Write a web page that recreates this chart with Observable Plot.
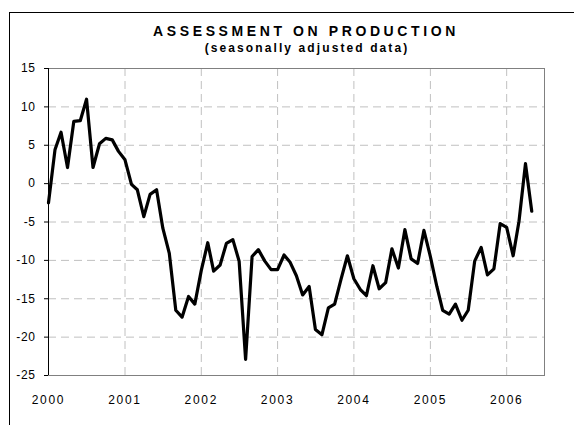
<!DOCTYPE html>
<html>
<head>
<meta charset="utf-8">
<script src="https://cdn.jsdelivr.net/npm/d3@7"></script>
<script src="https://cdn.jsdelivr.net/npm/@observablehq/plot@0.6"></script>
<style>
  html, body { margin: 0; padding: 0; background: #fff; width: 574px; height: 425px; overflow: hidden; position: relative; }
  #frame { position: absolute; left: 9px; top: 12px; width: 620px; height: 520px; border: 1px solid #000; box-sizing: border-box; }
  #title { position: absolute; left: 0; width: 608px; top: 24px; text-align: center; font: bold 14px "Liberation Sans", Arial, sans-serif; line-height: 14px; letter-spacing: 3.6px; padding-left: 4px; box-sizing: border-box; color: #000; }
  #subtitle { position: absolute; left: 0; width: 612px; top: 42px; text-align: center; font: bold 12px "Liberation Sans", Arial, sans-serif; line-height: 12px; letter-spacing: 2.1px; padding-left: 2px; box-sizing: border-box; color: #000; }
  #chart { position: absolute; left: 0; top: 58px; }
  #chart svg g[aria-label="x-axis tick label"] text { letter-spacing: 1.7px; }
  #chart svg g[aria-label="y-axis tick label"] text { letter-spacing: 0.6px; }
</style>
</head>
<body>
<div id="frame"></div>
<div id="title">ASSESSMENT ON PRODUCTION</div>
<div id="subtitle">(seasonally adjusted data)</div>
<div id="chart"></div>
<script>
// Monthly values, January 2000 – May 2006
const values2000 = [-2.5, 4.4, 6.7, 2.1, 8.1, 8.2, 11.0, 2.1, 5.2, 5.9, 5.7, 4.2];
const values2001 = [3.1, -0.1, -0.8, -4.3, -1.4, -0.8, -5.8, -9.1, -16.5, -17.4, -14.7, -15.7];
const values2002 = [-11.3, -7.7, -11.4, -10.6, -7.8, -7.3, -10.1, -22.9, -9.5, -8.6, -10.1, -11.2];
const values2003 = [-11.2, -9.3, -10.2, -12.0, -14.5, -13.4, -19.0, -19.7, -16.2, -15.7, -12.4, -9.4];
const values2004 = [-12.4, -13.8, -14.6, -10.7, -13.7, -12.9, -8.5, -11.0, -6.0, -9.8, -10.4, -6.1];
const values2005 = [-9.5, -13.4, -16.5, -17.0, -15.7, -17.8, -16.5, -10.1, -8.3, -11.9, -11.1, -5.2];
const values2006 = [-5.7, -9.4, -4.9, 2.6, -3.6];

const years = [2000, 2001, 2002, 2003, 2004, 2005, 2006];
const yTicks = [-25, -20, -15, -10, -5, 0, 5, 10, 15];

const allValues = [...values2000, ...values2001, ...values2002, ...values2003, ...values2004, ...values2005, ...values2006];
const data = allValues.map((v, i) => ({ date: new Date(Date.UTC(2000, i, 1)), value: v }));
const yearDates = years.map(y => new Date(Date.UTC(y, 0, 1)));
const xStart = new Date(Date.UTC(2000, 0, 1));
const xEnd = new Date(Date.UTC(2006, 6, 1));

const chart = Plot.plot({
  width: 574,
  height: 349,
  marginLeft: 48,
  marginRight: 30,
  marginTop: 10,
  marginBottom: 32,
  style: { fontFamily: '"Liberation Sans", Arial, sans-serif', fontSize: "12px", color: "#000", background: "transparent", overflow: "visible" },
  x: { type: "utc", domain: [xStart, xEnd] },
  y: { domain: [-25, 15] },
  marks: [
    Plot.ruleY(yTicks.slice(1, -1), { stroke: "#c0c0c0", strokeDasharray: "8,5" }),
    Plot.ruleX(yearDates.slice(1), { stroke: "#c0c0c0", strokeDasharray: "8,5" }),
    Plot.frame({ stroke: "#808080" }),
    Plot.axisY(yTicks, { tickSize: 4, tickPadding: 9, tickFormat: d => String(d), label: null, stroke: "#000" }),
    Plot.ruleX([xStart], { stroke: "#000" }),
    Plot.axisX(yearDates, { tickSize: 0, tickPadding: 20, tickFormat: d => String(d.getUTCFullYear()), label: null }),
    Plot.lineY(data, { x: "date", y: "value", stroke: "#000", strokeWidth: 3.2 })
  ]
});
document.getElementById("chart").appendChild(chart);
</script>
</body>
</html>
